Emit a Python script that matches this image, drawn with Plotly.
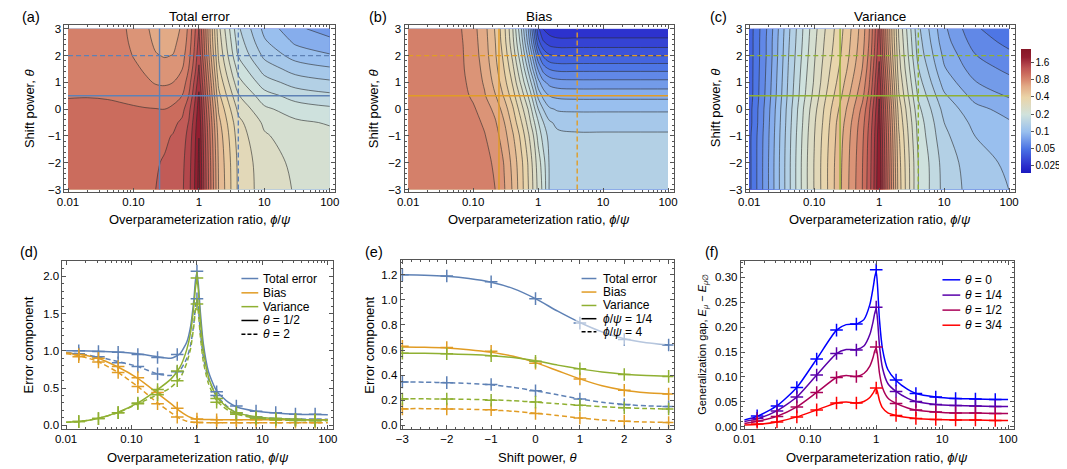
import numpy as np
import plotly.graph_objects as go

# ---------------- panels (a)-(c): error maps over ratio x shift power ----------------
RATIO_GRID = [0.01, 0.02, 0.04, 0.07, 0.1, 0.15, 0.22, 0.3, 0.4, 0.55, 0.7, 0.85,
              1.0, 1.2, 1.5, 2, 4, 10, 30, 100]
THETA_GRID = [-3, -2, -1, -0.5, 0, 0.5, 1, 1.5, 2, 2.5, 3]

TOTAL_GRID = [
    [1.032, 1.055, 1.09, 1.13, 1.14, 1.15, 1.19, 1.22, 1.27, 1.37, 1.59, 1.98, 2.53, 1.65, 1.035, 0.592, 0.342, 0.272, 0.247, 0.237],
    [1.032, 1.055, 1.09, 1.12, 1.13, 1.14, 1.175, 1.205, 1.25, 1.35, 1.56, 1.94, 2.47, 1.615, 1.013, 0.58, 0.34, 0.268, 0.242, 0.232],
    [1.027, 1.044, 1.078, 1.095, 1.095, 1.1, 1.13, 1.16, 1.2, 1.29, 1.5, 1.87, 2.37, 1.552, 0.966, 0.555, 0.325, 0.255, 0.23, 0.22],
    [1.021, 1.038, 1.066, 1.07, 1.07, 1.06, 1.08, 1.1, 1.14, 1.23, 1.43, 1.8, 2.285, 1.502, 0.928, 0.527, 0.312, 0.242, 0.217, 0.207],
    [1.02, 1.03, 1.04, 1.03, 1.02, 1.01, 1.005, 1.0, 1.03, 1.12, 1.34, 1.7, 2.185, 1.425, 0.872, 0.49, 0.285, 0.218, 0.193, 0.183],
    [0.995, 0.995, 0.985, 0.965, 0.95, 0.93, 0.905, 0.91, 0.94, 1.0, 1.195, 1.56, 2.07, 1.334, 0.802, 0.442, 0.254, 0.19, 0.165, 0.155],
    [0.99, 0.985, 0.97, 0.935, 0.905, 0.865, 0.83, 0.82, 0.84, 0.905, 1.09, 1.45, 1.85, 1.244, 0.743, 0.403, 0.223, 0.161, 0.138, 0.129],
    [0.985, 0.98, 0.96, 0.91, 0.87, 0.825, 0.77, 0.75, 0.77, 0.835, 1.005, 1.3, 1.72, 1.149, 0.678, 0.368, 0.198, 0.138, 0.116, 0.108],
    [0.98, 0.97, 0.945, 0.885, 0.835, 0.775, 0.715, 0.7, 0.71, 0.78, 0.945, 1.22, 1.6, 1.056, 0.625, 0.345, 0.175, 0.12, 0.098, 0.09],
    [0.978, 0.965, 0.935, 0.872, 0.81, 0.748, 0.685, 0.67, 0.68, 0.745, 0.903, 1.17, 1.5, 1.009, 0.588, 0.328, 0.163, 0.108, 0.086, 0.078],
    [0.975, 0.96, 0.925, 0.86, 0.795, 0.73, 0.668, 0.65, 0.66, 0.722, 0.877, 1.13, 1.42, 0.974, 0.573, 0.313, 0.153, 0.1, 0.077, 0.069],
]

BIAS_GRID = [
    [0.995, 0.99, 0.98, 0.96, 0.94, 0.9, 0.84, 0.72, 0.59, 0.45, 0.36, 0.29, 0.24, 0.2, 0.145, 0.136, 0.135, 0.135, 0.135, 0.135],
    [0.995, 0.99, 0.975, 0.955, 0.93, 0.88, 0.82, 0.7, 0.57, 0.44, 0.35, 0.28, 0.23, 0.19, 0.145, 0.135, 0.133, 0.133, 0.133, 0.133],
    [0.99, 0.985, 0.965, 0.94, 0.91, 0.85, 0.76, 0.64, 0.52, 0.4, 0.31, 0.25, 0.2, 0.165, 0.14, 0.13, 0.128, 0.128, 0.128, 0.128],
    [0.99, 0.98, 0.955, 0.925, 0.89, 0.82, 0.72, 0.6, 0.48, 0.36, 0.28, 0.22, 0.18, 0.15, 0.128, 0.12, 0.118, 0.118, 0.118, 0.118],
    [0.985, 0.975, 0.945, 0.905, 0.86, 0.78, 0.67, 0.55, 0.44, 0.32, 0.25, 0.19, 0.15, 0.125, 0.108, 0.103, 0.102, 0.102, 0.102, 0.102],
    [0.98, 0.965, 0.93, 0.875, 0.82, 0.72, 0.6, 0.49, 0.39, 0.28, 0.21, 0.16, 0.12, 0.1, 0.088, 0.085, 0.084, 0.084, 0.084, 0.084],
    [0.975, 0.96, 0.92, 0.86, 0.8, 0.69, 0.56, 0.45, 0.35, 0.24, 0.175, 0.13, 0.095, 0.078, 0.07, 0.067, 0.066, 0.066, 0.066, 0.066],
    [0.975, 0.955, 0.915, 0.85, 0.78, 0.67, 0.53, 0.42, 0.32, 0.21, 0.145, 0.1, 0.073, 0.058, 0.052, 0.05, 0.05, 0.05, 0.05, 0.05],
    [0.97, 0.95, 0.91, 0.845, 0.77, 0.65, 0.51, 0.4, 0.29, 0.185, 0.12, 0.08, 0.055, 0.043, 0.038, 0.037, 0.037, 0.037, 0.037, 0.037],
    [0.97, 0.95, 0.905, 0.84, 0.76, 0.64, 0.5, 0.38, 0.27, 0.165, 0.1, 0.063, 0.04, 0.032, 0.029, 0.028, 0.028, 0.028, 0.028, 0.028],
    [0.97, 0.95, 0.9, 0.835, 0.75, 0.63, 0.49, 0.37, 0.26, 0.15, 0.09, 0.053, 0.033, 0.026, 0.024, 0.023, 0.023, 0.023, 0.023, 0.023],
]

VAR_GRID = [
    [0.042, 0.075, 0.14, 0.23, 0.3, 0.4, 0.53, 0.65, 0.79, 1.0, 1.3, 1.75, 2.35, 1.5, 0.9, 0.46, 0.21, 0.14, 0.115, 0.105],
    [0.042, 0.075, 0.14, 0.23, 0.3, 0.4, 0.525, 0.645, 0.78, 0.99, 1.28, 1.72, 2.3, 1.47, 0.88, 0.45, 0.21, 0.138, 0.112, 0.102],
    [0.042, 0.074, 0.138, 0.225, 0.295, 0.39, 0.51, 0.63, 0.76, 0.96, 1.25, 1.68, 2.22, 1.42, 0.84, 0.43, 0.2, 0.13, 0.105, 0.095],
    [0.041, 0.073, 0.136, 0.22, 0.29, 0.38, 0.5, 0.61, 0.74, 0.93, 1.21, 1.63, 2.15, 1.38, 0.81, 0.41, 0.195, 0.125, 0.1, 0.09],
    [0.041, 0.072, 0.134, 0.215, 0.28, 0.37, 0.475, 0.58, 0.7, 0.88, 1.15, 1.56, 2.07, 1.32, 0.77, 0.39, 0.185, 0.118, 0.093, 0.083],
    [0.04, 0.07, 0.13, 0.205, 0.265, 0.35, 0.445, 0.54, 0.65, 0.8, 1.05, 1.45, 1.98, 1.25, 0.72, 0.36, 0.172, 0.108, 0.083, 0.073],
    [0.04, 0.069, 0.128, 0.2, 0.255, 0.335, 0.42, 0.51, 0.61, 0.75, 0.98, 1.37, 1.88, 1.18, 0.68, 0.34, 0.16, 0.098, 0.075, 0.066],
    [0.04, 0.068, 0.126, 0.195, 0.25, 0.325, 0.4, 0.48, 0.575, 0.71, 0.92, 1.29, 1.75, 1.1, 0.63, 0.32, 0.15, 0.09, 0.068, 0.06],
    [0.04, 0.067, 0.124, 0.19, 0.245, 0.315, 0.385, 0.46, 0.55, 0.68, 0.88, 1.22, 1.63, 1.02, 0.59, 0.31, 0.14, 0.085, 0.063, 0.055],
    [0.04, 0.067, 0.122, 0.186, 0.24, 0.308, 0.375, 0.45, 0.535, 0.66, 0.85, 1.17, 1.56, 0.98, 0.56, 0.3, 0.135, 0.08, 0.058, 0.05],
    [0.04, 0.066, 0.12, 0.183, 0.235, 0.3, 0.368, 0.44, 0.525, 0.645, 0.83, 1.14, 1.5, 0.95, 0.55, 0.29, 0.13, 0.077, 0.054, 0.046],
]

SLICE_RATIOS = [0.25, 4]      # solid, dashed
SLICE_THETAS = [0.5, 2]       # solid, dashed
MAP_TITLES = ["Total error", "Bias", "Variance"]
CB_RANGE = [0.019, 2.79]
CB_TICKS = [0.025, 0.05, 0.1, 0.2, 0.4, 0.8, 1.6]
CB_LABELS = ["0.025", "0.05", "0.1", "0.2", "0.4", "0.8", "1.6"]

# ---------------- panel (d): components vs ratio ----------------
MARK_X = [0.015625, 0.03125, 0.0625, 0.125, 0.25, 0.5, 1, 2, 4, 8, 16, 32, 64]
D_LINE_X = [0.01, 0.016, 0.03, 0.06, 0.125, 0.25, 0.4, 0.55, 0.7, 0.8, 0.9, 0.95, 1.0,
            1.05, 1.12, 1.25, 1.5, 2, 3, 4, 8, 16, 32, 64, 100]
D_TOTAL_HALF = [1.0, 1.0, 0.995, 0.985, 0.96, 0.92, 0.9, 0.96, 1.12, 1.33, 1.7, 1.95, 2.05,
                1.9, 1.55, 1.1, 0.72, 0.46, 0.31, 0.25, 0.19, 0.165, 0.15, 0.145, 0.143]
D_TOTAL_TWO = [0.975, 0.96, 0.92, 0.86, 0.79, 0.69, 0.67, 0.74, 0.9, 1.08, 1.38, 1.6, 1.7,
               1.58, 1.28, 0.92, 0.62, 0.4, 0.24, 0.17, 0.11, 0.09, 0.085, 0.08, 0.08]
D_BIAS_HALF = [0.975, 0.955, 0.905, 0.79, 0.63, 0.43, 0.29, 0.19, 0.13, 0.105, 0.09, 0.085, 0.082,
               0.08, 0.079, 0.078, 0.077, 0.076, 0.075, 0.075, 0.075, 0.075, 0.075, 0.075, 0.075]
D_BIAS_TWO = [0.96, 0.935, 0.86, 0.72, 0.52, 0.3, 0.17, 0.09, 0.055, 0.045, 0.038, 0.036, 0.035,
              0.035, 0.035, 0.035, 0.035, 0.035, 0.035, 0.035, 0.035, 0.035, 0.035, 0.035, 0.035]
D_VAR_HALF = [0.04, 0.05, 0.09, 0.17, 0.3, 0.48, 0.62, 0.78, 1.02, 1.25, 1.62, 1.85, 1.97,
              1.82, 1.45, 1.02, 0.65, 0.38, 0.23, 0.17, 0.115, 0.09, 0.08, 0.072, 0.07]
D_VAR_TWO = [0.04, 0.05, 0.09, 0.165, 0.29, 0.41, 0.51, 0.63, 0.84, 1.03, 1.35, 1.55, 1.64,
             1.52, 1.22, 0.86, 0.56, 0.33, 0.2, 0.15, 0.095, 0.075, 0.065, 0.06, 0.06]
D_TOTAL_HALF_MK = [1.0, 0.99, 0.98, 0.95, 0.91, 0.95, 2.07, 0.45, 0.26, 0.19, 0.17, 0.15, 0.15]
D_TOTAL_TWO_MK = [0.96, 0.92, 0.84, 0.79, 0.69, 0.72, 1.7, 0.4, 0.17, 0.11, 0.09, 0.08, 0.08]
D_BIAS_HALF_MK = [0.95, 0.9, 0.79, 0.64, 0.44, 0.23, 0.085, 0.075, 0.075, 0.075, 0.07, 0.07, 0.07]
D_BIAS_TWO_MK = [0.92, 0.85, 0.71, 0.52, 0.29, 0.11, 0.04, 0.035, 0.035, 0.035, 0.035, 0.035, 0.035]
D_VAR_HALF_MK = [0.05, 0.09, 0.17, 0.3, 0.48, 0.73, 1.98, 0.36, 0.17, 0.11, 0.09, 0.08, 0.07]
D_VAR_TWO_MK = [0.05, 0.09, 0.17, 0.29, 0.41, 0.6, 1.63, 0.31, 0.15, 0.09, 0.075, 0.065, 0.06]

# ---------------- panel (e): components vs shift power ----------------
E_LINE_T = [-3, -2.5, -2, -1.5, -1, -0.5, 0, 0.5, 1, 1.5, 2, 2.5, 3]
E_MARK_T = [-3, -2, -1, 0, 1, 2, 3]
E_TOTAL_Q = [1.2, 1.197, 1.188, 1.17, 1.14, 1.09, 1.01, 0.91, 0.82, 0.745, 0.69, 0.658, 0.64]
E_BIAS_Q = [0.625, 0.623, 0.617, 0.603, 0.582, 0.55, 0.5, 0.435, 0.37, 0.315, 0.28, 0.26, 0.25]
E_VAR_Q = [0.575, 0.574, 0.57, 0.564, 0.555, 0.54, 0.515, 0.48, 0.45, 0.425, 0.408, 0.397, 0.392]
E_TOTAL_4 = [0.345, 0.344, 0.34, 0.334, 0.323, 0.303, 0.275, 0.243, 0.21, 0.184, 0.166, 0.155, 0.15]
E_BIAS_4 = [0.133, 0.133, 0.131, 0.128, 0.122, 0.112, 0.097, 0.078, 0.058, 0.043, 0.032, 0.026, 0.023]
E_VAR_4 = [0.212, 0.211, 0.21, 0.207, 0.203, 0.196, 0.185, 0.172, 0.16, 0.149, 0.14, 0.134, 0.13]
E_TOTAL_Q_MK = [1.2, 1.19, 1.145, 1.01, 0.815, 0.685, 0.64]
E_BIAS_Q_MK = [0.63, 0.62, 0.59, 0.495, 0.37, 0.28, 0.25]
E_VAR_Q_MK = [0.575, 0.57, 0.555, 0.51, 0.45, 0.405, 0.39]
E_TOTAL_4_MK = [0.345, 0.34, 0.325, 0.275, 0.21, 0.165, 0.15]
E_BIAS_4_MK = [0.13, 0.13, 0.125, 0.095, 0.058, 0.033, 0.022]
E_VAR_4_MK = [0.21, 0.21, 0.2, 0.185, 0.16, 0.14, 0.13]

# ---------------- panel (f): generalization gap ----------------
F_LINE_X = [0.01, 0.0156, 0.031, 0.0625, 0.125, 0.25, 0.35, 0.5, 0.65, 0.8, 0.9, 0.95, 1.0,
            1.05, 1.12, 1.25, 1.5, 2, 3, 4, 8, 16, 32, 64, 100]
F_LINES = [
    [0.014, 0.021, 0.042, 0.079, 0.136, 0.194, 0.205, 0.206, 0.215, 0.245, 0.28, 0.3, 0.312,
     0.28, 0.215, 0.155, 0.115, 0.093, 0.075, 0.067, 0.06, 0.057, 0.056, 0.055, 0.055],
    [0.011, 0.016, 0.032, 0.06, 0.104, 0.147, 0.155, 0.155, 0.162, 0.185, 0.212, 0.228, 0.238,
     0.213, 0.163, 0.117, 0.087, 0.071, 0.057, 0.051, 0.045, 0.043, 0.042, 0.041, 0.041],
    [0.007, 0.011, 0.021, 0.04, 0.069, 0.099, 0.103, 0.101, 0.107, 0.122, 0.14, 0.152, 0.158,
     0.142, 0.108, 0.078, 0.058, 0.047, 0.038, 0.034, 0.03, 0.028, 0.028, 0.027, 0.027],
    [0.004, 0.005, 0.01, 0.02, 0.034, 0.048, 0.05, 0.048, 0.051, 0.059, 0.068, 0.074, 0.077,
     0.069, 0.053, 0.038, 0.028, 0.023, 0.019, 0.017, 0.015, 0.014, 0.014, 0.013, 0.013],
]
F_MARKS = [
    [0.022, 0.042, 0.079, 0.136, 0.194, 0.206, 0.315, 0.094, 0.067, 0.06, 0.057, 0.056, 0.055],
    [0.017, 0.032, 0.06, 0.104, 0.147, 0.154, 0.24, 0.071, 0.051, 0.045, 0.043, 0.042, 0.041],
    [0.012, 0.021, 0.04, 0.069, 0.099, 0.101, 0.16, 0.047, 0.034, 0.03, 0.028, 0.028, 0.027],
    [0.006, 0.01, 0.02, 0.034, 0.048, 0.048, 0.078, 0.023, 0.017, 0.015, 0.014, 0.014, 0.013],
]
F_NAMES = ["<i>θ</i> = 0", "<i>θ</i> = 1/4", "<i>θ</i> = 1/2", "<i>θ</i> = 3/4"]
F_COLORS = ["#0000ff", "#5a00aa", "#aa0058", "#ff0000"]

BLUE, ORANGE, GREEN = "#5e81b5", "#e19c24", "#8fb032"
DASH = "5px,3px"
FONT = "Liberation Sans, Arial, sans-serif"

W, H = 1067, 469
def px(x): return x / W
def py(y): return 1 - y / H

# frame edges in pixels (left, right, top, bottom)
BOXES = {1: (49, 323, 15, 184), 2: (393, 665, 15, 184), 3: (738, 1010, 15, 184),
         4: (47, 321, 254, 424), 5: (389, 665, 253, 424), 6: (733, 1009, 254, 424)}

def xr(i): return "x" if i == 1 else "x%d" % i
def yr(i): return "y" if i == 1 else "y%d" % i

fig = go.Figure()

# ---- contour maps ----
lvl = np.log10(2) / 4
for i, (grid, col) in enumerate(zip([TOTAL_GRID, BIAS_GRID, VAR_GRID], [BLUE, ORANGE, GREEN]), start=1):
    fig.add_trace(go.Contour(
        x=RATIO_GRID, y=THETA_GRID, z=np.log10(np.array(grid)),
        coloraxis="coloraxis", autocontour=False,
        contours=dict(coloring="fill", start=-23 * lvl, end=0.46, size=lvl),
        line=dict(color="rgba(45,45,45,0.6)", width=1),
        xaxis=xr(i), yaxis=yr(i), hoverinfo="skip"))
    for r, d in zip(SLICE_RATIOS, ["solid", DASH]):
        fig.add_trace(go.Scatter(x=[r, r], y=[THETA_GRID[0], THETA_GRID[-1]], mode="lines",
                                 line=dict(color=col, width=1.4, dash=d),
                                 xaxis=xr(i), yaxis=yr(i), showlegend=False, hoverinfo="skip"))
    for t, d in zip(SLICE_THETAS, ["solid", DASH]):
        fig.add_trace(go.Scatter(x=[RATIO_GRID[0], RATIO_GRID[-1]], y=[t, t], mode="lines",
                                 line=dict(color=col, width=1.4, dash=d),
                                 xaxis=xr(i), yaxis=yr(i), showlegend=False, hoverinfo="skip"))

# invisible trace that only carries the continuous colour bar
fig.add_trace(go.Heatmap(z=[list(np.log10(CB_RANGE))], coloraxis="coloraxis2", opacity=0,
                         xaxis="x7", yaxis="y7", hoverinfo="skip"))


def add_curve(i, x, y, color, dash="solid"):
    fig.add_trace(go.Scatter(x=x, y=y, mode="lines",
                             line=dict(color=color, width=1.5, dash=dash, shape="spline", smoothing=0.6),
                             xaxis=xr(i), yaxis=yr(i), showlegend=False, hoverinfo="skip"))


def add_marks(i, x, y, color):
    fig.add_trace(go.Scatter(x=x, y=y, mode="markers",
                             marker=dict(symbol="cross-thin", size=9, color=color,
                                         line=dict(width=1.5, color=color)),
                             xaxis=xr(i), yaxis=yr(i), showlegend=False, hoverinfo="skip"))


# ---- (d) ----
for ys, col in [((D_TOTAL_HALF, D_TOTAL_TWO), BLUE), ((D_BIAS_HALF, D_BIAS_TWO), ORANGE),
                ((D_VAR_HALF, D_VAR_TWO), GREEN)]:
    add_curve(4, D_LINE_X, ys[0], col)
    add_curve(4, D_LINE_X, ys[1], col, DASH)
for ys, col in [((D_TOTAL_HALF_MK, D_TOTAL_TWO_MK), BLUE), ((D_BIAS_HALF_MK, D_BIAS_TWO_MK), ORANGE),
                ((D_VAR_HALF_MK, D_VAR_TWO_MK), GREEN)]:
    add_marks(4, MARK_X, ys[0], col)
    add_marks(4, MARK_X, ys[1], col)

# ---- (e) ----
for ys, col in [((E_TOTAL_Q, E_TOTAL_4), BLUE), ((E_BIAS_Q, E_BIAS_4), ORANGE),
                ((E_VAR_Q, E_VAR_4), GREEN)]:
    add_curve(5, E_LINE_T, ys[0], col)
    add_curve(5, E_LINE_T, ys[1], col, DASH)
for ys, col in [((E_TOTAL_Q_MK, E_TOTAL_4_MK), BLUE), ((E_BIAS_Q_MK, E_BIAS_4_MK), ORANGE),
                ((E_VAR_Q_MK, E_VAR_4_MK), GREEN)]:
    add_marks(5, E_MARK_T, ys[0], col)
    add_marks(5, E_MARK_T, ys[1], col)

# ---- (f) ----
for ln, mk, col in zip(F_LINES, F_MARKS, F_COLORS):
    add_curve(6, F_LINE_X, ln, col)
    add_marks(6, MARK_X, mk, col)

# ---- axes ----
def frame(**kw):
    d = dict(showline=True, linecolor="#555", linewidth=1, mirror="allticks", ticks="inside",
             ticklen=4, tickcolor="#555", showgrid=False, zeroline=False,
             tickfont=dict(size=11.5, color="black"))
    d.update(kw)
    return d

log_minor = [m * 10.0 ** e for e in range(-2, 2) for m in range(2, 10)]
layout = {}
for i, (l, r, t, b) in BOXES.items():
    xk = "xaxis" if i == 1 else "xaxis%d" % i
    yk = "yaxis" if i == 1 else "yaxis%d" % i
    xdom = [px(l), px(r)]
    ydom = [py(b), py(t)]
    if i == 5:
        layout[xk] = frame(domain=xdom, anchor=yr(i), range=[-3.04, 3.11], dtick=1,
                           minor=dict(dtick=0.2, ticks="inside", ticklen=2, tickcolor="#555"))
    else:
        layout[xk] = frame(domain=xdom, anchor=yr(i), type="log", range=[-2.055, 2.085],
                           tickvals=[0.01, 0.1, 1, 10, 100], ticktext=["0.01", "0.10", "1", "10", "100"],
                           minor=dict(tickvals=log_minor, ticks="inside", ticklen=2, tickcolor="#555"))
    if i <= 3:
        layout[yk] = frame(domain=ydom, anchor=xr(i), range=[-3.08, 3.15], dtick=1,
                           minor=dict(dtick=0.2, ticks="inside", ticklen=2, tickcolor="#555"))
    elif i == 4:
        layout[yk] = frame(domain=ydom, anchor=xr(i), range=[-0.044, 2.21], dtick=0.5, tickformat=".1f",
                           minor=dict(dtick=0.1, ticks="inside", ticklen=2, tickcolor="#555"))
    elif i == 5:
        layout[yk] = frame(domain=ydom, anchor=xr(i), range=[-0.026, 1.32], dtick=0.2, tickformat=".1f",
                           minor=dict(dtick=0.05, ticks="inside", ticklen=2, tickcolor="#555"))
    else:
        layout[yk] = frame(domain=ydom, anchor=xr(i), range=[-0.0034, 0.333], dtick=0.05, tickformat=".2f",
                           minor=dict(dtick=0.01, ticks="inside", ticklen=2, tickcolor="#555"))
layout["xaxis7"] = dict(domain=[0, 0.005], anchor="y7", visible=False)
layout["yaxis7"] = dict(domain=[0, 0.005], anchor="x7", visible=False)

ann = []
shapes = []

def text(x, y, s, size=12, angle=0, anchor="center"):
    ann.append(dict(x=px(x), y=py(y), xref="paper", yref="paper", text=s, showarrow=False,
                    xanchor=anchor, yanchor="middle", textangle=angle,
                    font=dict(size=size, color="black", family=FONT)))

XT = "Overparameterization ratio, <i>ϕ</i>/<i>ψ</i>"
for i, lab in zip(range(1, 7), "abcdef"):
    l, r, t, b = BOXES[i]
    row2 = i > 3
    text(l - 45 if i in (1, 4) else l - 38, 245 if row2 else 7, "(%s)" % lab, size=14.5, anchor="left")
    text((l + r) / 2, 453 if row2 else 212, "Shift power, <i>θ</i>" if i == 5 else XT, size=13)
for i, s in zip(range(1, 4), MAP_TITLES):
    l, r, t, b = BOXES[i]
    text((l + r) / 2, 7, s, size=13.5)
for x in (13, 361, 707):
    text(x, 99.5, "Shift power, <i>θ</i>", size=13, angle=-90)
for x in (13, 358):
    text(x, 339, "Error component", size=13, angle=-90)
text(694, 339, "Generalization gap, <i>E</i><sub><i>μ</i></sub> − <i>E</i><sub><i>μ</i>∅</sub>", size=11, angle=-90)

# legend backdrop in (e)
shapes.append(dict(type="rect", xref="paper", yref="paper", x0=px(566), x1=px(656), y0=py(339), y1=py(262),
                   fillcolor="rgba(255,255,255,0.55)", line=dict(width=0), layer="above"))

def legend(x0, x1, xt, ys, labels, colors, dashes):
    for y, s, c, d in zip(ys, labels, colors, dashes):
        shapes.append(dict(type="line", xref="paper", yref="paper", x0=px(x0), x1=px(x1),
                           y0=py(y), y1=py(y), line=dict(color=c, width=1.5, dash=d), layer="above"))
        text(xt, y, s, size=12, anchor="left")

COMP = ["Total error", "Bias", "Variance"]
legend(228, 245, 248, [272, 286.5, 300.5, 314.5, 328.5],
       COMP + ["<i>θ</i> = 1/2", "<i>θ</i> = 2"],
       [BLUE, ORANGE, GREEN, "black", "black"], ["solid"] * 4 + ["4px,2px"])
legend(572, 587, 592, [272, 285.7, 299.3, 312.7, 326],
       COMP + ["<i>ϕ</i>/<i>ψ</i> = 1/4", "<i>ϕ</i>/<i>ψ</i> = 4"],
       [BLUE, ORANGE, GREEN, "black", "black"], ["solid"] * 4 + ["4px,2px"])
legend(937, 955, 958, [273.3, 288.8, 304, 319.3], F_NAMES, F_COLORS, ["solid"] * 4)

CSCALE = [[0.0, "#1a1abf"], [0.054, "#2a2ccc"], [0.193, "#4a72e4"], [0.332, "#98bfee"],
          [0.471, "#d0e2dc"], [0.61, "#ead4a8"], [0.7, "#e2aa86"], [0.749, "#d88a70"],
          [0.804, "#ca6a5c"], [0.847, "#bd5454"], [0.888, "#aa3a44"], [0.933, "#931e30"],
          [1.0, "#861626"]]
cmin, cmax = np.log10(CB_RANGE)

fig.update_layout(
    width=W, height=H, margin=dict(l=0, r=0, t=0, b=0),
    paper_bgcolor="white", plot_bgcolor="white", showlegend=False,
    font=dict(family=FONT, size=12, color="black"),
    coloraxis=dict(colorscale=CSCALE, cmin=cmin, cmax=cmax, showscale=False),
    coloraxis2=dict(colorscale=CSCALE, cmin=cmin, cmax=cmax,
                    colorbar=dict(x=px(1016), xanchor="left", y=py(102), yanchor="middle",
                                  len=126 / H, lenmode="fraction", thickness=10, outlinewidth=0,
                                  xpad=0, ypad=0,
                                  tickvals=list(np.log10(CB_TICKS)), ticktext=CB_LABELS,
                                  ticks="outside", ticklen=3, tickcolor="#555",
                                  tickfont=dict(size=10, color="black"))),
    annotations=ann, shapes=shapes, **layout)

fig.write_html("out.html")
